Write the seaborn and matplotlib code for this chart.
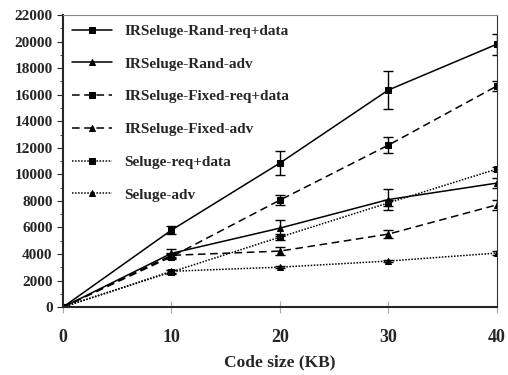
import numpy as np
import pandas as pd
import seaborn as sns
from matplotlib import pyplot as plt
from matplotlib.ticker import MultipleLocator

code_size = [0, 10, 20, 30, 40]
series = [
    'IRSeluge-Rand-req+data',
    'IRSeluge-Rand-adv',
    'IRSeluge-Fixed-req+data',
    'IRSeluge-Fixed-adv',
    'Seluge-req+data',
    'Seluge-adv',
]
rand_req = [0, 5800, 10850, 16350, 19800]
rand_adv = [0, 4050, 5950, 8100, 9340]
fixed_req = [0, 3800, 8060, 12200, 16650]
fixed_adv = [0, 3900, 4220, 5500, 7700]
seluge_req = [0, 2650, 5270, 7850, 10400]
seluge_adv = [0, 2700, 3010, 3470, 4070]

rand_req_err = [0, 300, 900, 1450, 800]
rand_adv_err = [0, 300, 600, 800, 400]
fixed_req_err = [0, 200, 400, 600, 400]
fixed_adv_err = [0, 200, 300, 300, 350]
seluge_req_err = [0, 150, 200, 250, 150]
seluge_adv_err = [0, 100, 100, 100, 120]

values = [rand_req, rand_adv, fixed_req, fixed_adv, seluge_req, seluge_adv]
errors = [rand_req_err, rand_adv_err, fixed_req_err, fixed_adv_err, seluge_req_err, seluge_adv_err]

rows = []
for name, vals in zip(series, values):
    for x, v in zip(code_size, vals):
        rows.append({'size': x, 'value': v, 'series': name})
df = pd.DataFrame(rows)

sns.set_style('ticks')
plt.rcParams['font.family'] = ['Liberation Serif', 'DejaVu Serif']
plt.rcParams['font.weight'] = 'bold'

fig = plt.figure(figsize=(5.08, 3.75), dpi=100)
ax = fig.add_axes([0.124, 0.181, 0.854, 0.779])

dashes = {
    series[0]: '', series[1]: '',
    series[2]: (5, 3), series[3]: (5, 3),
    series[4]: (1, 1), series[5]: (1, 1),
}
markers = {
    series[0]: 's', series[1]: '^',
    series[2]: 's', series[3]: '^',
    series[4]: 's', series[5]: '^',
}
sns.lineplot(data=df, x='size', y='value', hue='series', style='series',
             palette=['black'] * 6, dashes=dashes, markers=markers,
             markersize=5, markeredgecolor='black', linewidth=1.1, ax=ax)

for vals, err in zip(values, errors):
    ax.errorbar(code_size, vals, yerr=err, fmt='none', ecolor='black',
                elinewidth=1.0, capsize=3.5, capthick=1.0)

ax.set_xlim(0, 40)
ax.set_ylim(0, 22000)
ax.set_xticks(code_size)
ax.yaxis.set_major_locator(MultipleLocator(2000))
ax.yaxis.set_minor_locator(MultipleLocator(1000))
ax.tick_params(axis='y', which='major', length=4, direction='out')
ax.tick_params(axis='y', which='minor', length=2, direction='out')
ax.tick_params(axis='x', length=8, direction='inout', color='#aaaaaa', pad=12)
for lab in ax.get_xticklabels():
    lab.set_fontweight('bold')
    lab.set_fontsize(13)
for lab in ax.get_yticklabels():
    lab.set_fontweight('bold')
    lab.set_fontsize(11)
ax.set_xlabel('Code size (KB)', fontsize=12.5, fontweight='bold', labelpad=6)
ax.set_ylabel('')

ax.spines['left'].set_linewidth(1.5)
ax.spines['bottom'].set_linewidth(1.5)
ax.spines['top'].set_color('#888888')
ax.spines['right'].set_color('#333333')

leg = ax.legend(loc='upper left', frameon=False,
                handlelength=2.6, labelspacing=1.25, borderaxespad=0.2,
                prop={'weight': 'bold', 'size': 11})
for h in leg.legend_handles:
    h.set_color('black')
    h.set_markersize(4.5)

plt.savefig('out.png', dpi=100)
